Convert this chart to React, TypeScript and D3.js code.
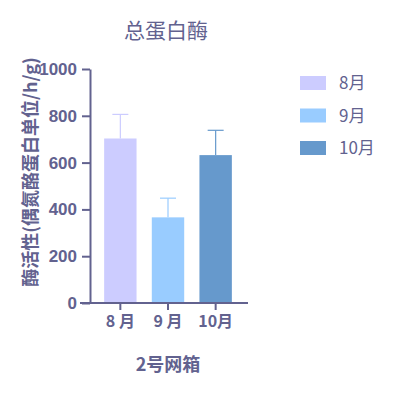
import React, { useRef, useEffect } from 'react';
import * as d3 from 'd3';

const months = ['8月', '9月', '10月'];
const tickLabels = ['8 月', '9 月', '10月'];
const means = [703, 366, 632];
const errors = [103, 82, 106];
const colors = ['#ccccff', '#99ccff', '#6699cc'];

const App = () => {
  const ref = useRef<SVGSVGElement>(null);

  useEffect(() => {
    const svg = d3.select(ref.current);
    svg.selectAll('*').remove();

    const axisColor = '#62628f';
    const textColor = '#62628f';
    const font = '"Liberation Sans", Arial, sans-serif';
    const cjk = '"Noto Sans CJK SC", sans-serif';

    // scales
    const x = d3.scaleBand<string>()
      .domain(months)
      .range([97, 239])
      .paddingInner(0.32)
      .paddingOuter(0.15);

    const y = d3.scaleLinear()
      .domain([0, 1000])
      .range([303, 69]);

    // bars
    svg.append('g')
      .selectAll('rect')
      .data(months)
      .join('rect')
      .attr('x', d => x(d)!)
      .attr('y', (d, i) => y(means[i]))
      .attr('width', x.bandwidth())
      .attr('height', (d, i) => y(0) - y(means[i]))
      .attr('fill', (d, i) => colors[i]);

    // error bars
    const err = svg.append('g');
    months.forEach((m, i) => {
      const cx = x(m)! + x.bandwidth() / 2;
      err.append('line')
        .attr('x1', cx).attr('x2', cx)
        .attr('y1', y(means[i])).attr('y2', y(means[i] + errors[i]))
        .attr('stroke', colors[i]).attr('stroke-width', 1.2);
      err.append('line')
        .attr('x1', cx - 8).attr('x2', cx + 8)
        .attr('y1', y(means[i] + errors[i])).attr('y2', y(means[i] + errors[i]))
        .attr('stroke', colors[i]).attr('stroke-width', 1.2);
    });

    // y axis
    const yAxis = svg.append('g')
      .attr('transform', 'translate(90,0)')
      .call(d3.axisLeft(y).tickValues([0, 200, 400, 600, 800, 1000]).tickFormat(d3.format('d'))
        .tickSize(8).tickPadding(5).tickSizeOuter(0));
    yAxis.select('.domain').attr('stroke', axisColor).attr('stroke-width', 2);
    yAxis.selectAll('.tick line').attr('stroke', axisColor).attr('stroke-width', 2);
    yAxis.selectAll('.tick text')
      .attr('fill', textColor)
      .attr('font-family', font)
      .attr('font-weight', 'bold')
      .attr('font-size', 17);

    // x axis
    const xAxis = svg.append('g')
      .attr('transform', 'translate(0,303)')
      .call(d3.axisBottom(x).tickSize(7).tickPadding(6).tickSizeOuter(0).tickFormat((d, i) => tickLabels[i]));
    xAxis.select('.domain').attr('d', 'M80,0H248').attr('stroke', axisColor).attr('stroke-width', 2);
    xAxis.selectAll('.tick line').attr('stroke', axisColor).attr('stroke-width', 2);
    xAxis.selectAll('.tick text')
      .attr('fill', textColor)
      .attr('font-family', cjk)
      .attr('font-weight', 'bold')
      .attr('font-size', 16);

    // title
    svg.append('text')
      .attr('x', 166).attr('y', 38)
      .attr('text-anchor', 'middle')
      .attr('fill', textColor)
      .attr('font-family', cjk)
      .attr('font-size', 21)
      .text('总蛋白酶');

    // x title
    svg.append('text')
      .attr('x', 168).attr('y', 371)
      .attr('text-anchor', 'middle')
      .attr('fill', textColor)
      .attr('font-family', cjk)
      .attr('font-weight', 'bold')
      .attr('font-size', 18)
      .text('2号网箱');

    // y title
    svg.append('text')
      .attr('transform', 'translate(37,172) rotate(-90)')
      .attr('text-anchor', 'middle')
      .attr('fill', textColor)
      .attr('font-family', cjk)
      .attr('font-weight', 'bold')
      .attr('font-size', 18)
      .text('酶活性(偶氮酪蛋白单位/h/g)');

    // legend
    const legend = svg.append('g');
    months.forEach((m, i) => {
      const ly = 83 + i * 32.5;
      legend.append('rect')
        .attr('x', 300).attr('y', ly - 7)
        .attr('width', 26).attr('height', 14)
        .attr('fill', colors[i]);
      legend.append('text')
        .attr('x', 339).attr('y', ly + 6)
        .attr('fill', textColor)
        .attr('font-family', cjk)
        .attr('font-size', 17)
        .text(m);
    });
  }, []);

  return (
    <svg ref={ref} width={398} height={393} style={{ position: 'absolute', left: 0, top: 0 }} />
  );
};

export default App;
